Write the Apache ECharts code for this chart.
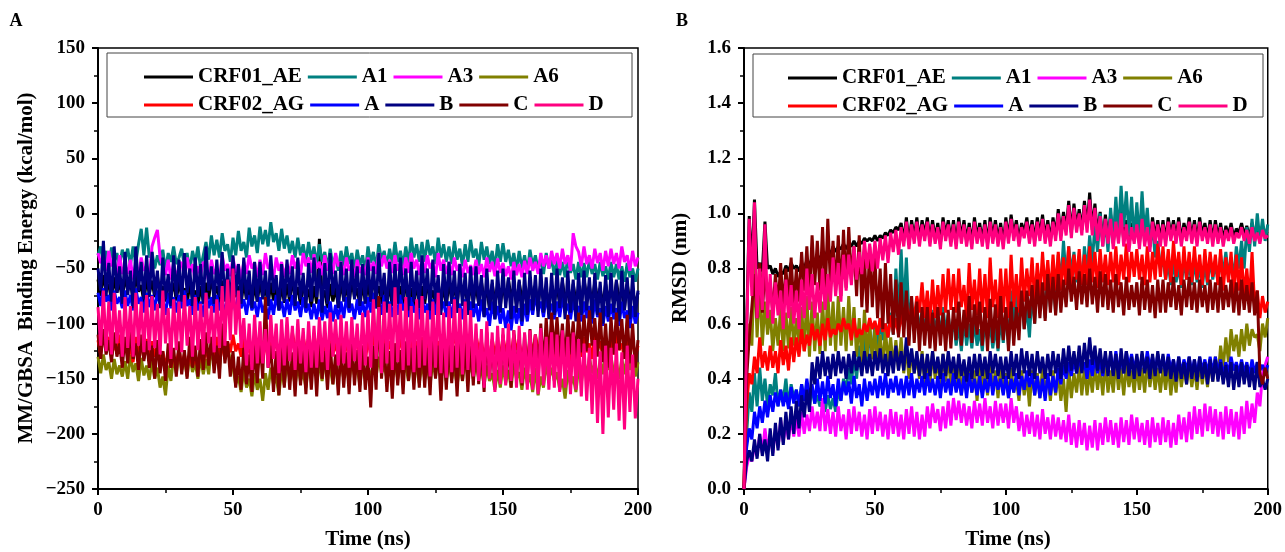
<!DOCTYPE html>
<html>
<head>
<meta charset="utf-8">
<script src="https://cdn.jsdelivr.net/npm/echarts@6/dist/echarts.min.js"></script>
<style>
  html, body { margin: 0; padding: 0; background: #fff; }
  #main { width: 1285px; height: 552px; }
</style>
</head>
<body>
<div id="main"></div>
<script>
// one frame per ns, 0..200 ns
var timeStep = 1;

var seriesNames = ['CRF01_AE', 'A1', 'A3', 'A6', 'CRF02_AG', 'A', 'B', 'C', 'D'];
var seriesColors = ['#000000', '#008080', '#FF00FF', '#808000', '#FF0000', '#0000FF', '#000080', '#800000', '#FF0080'];
var legendRow1 = ['CRF01_AE', 'A1', 'A3', 'A6'];
var legendRow2 = ['CRF02_AG', 'A', 'B', 'C', 'D'];

var timeTicks = [0, 50, 100, 150, 200];
var energyTicks = [-250, -200, -150, -100, -50, 0, 50, 100, 150];
var rmsdTicks = [0.0, 0.2, 0.4, 0.6, 0.8, 1.0, 1.2, 1.4, 1.6];

// panel A : MM/GBSA binding energy (kcal/mol)
var energyCRF01_AE = [
  -60, -75, -56, -70, -64, -80, -58, -72, -62, -78,
  -57, -70, -63, -77, -55, -71, -65, -81, -59, -73,
  -61, -76, -57, -72, -66, -80, -60, -74, -63, -79,
  -62, -75, -68, -82, -64, -77, -70, -85, -66, -80,
  -63, -78, -58, -74, -66, -81, -61, -76, -68, -84,
  -60, -76, -66, -82, -62, -78, -68, -84, -64, -80,
  -62, -77, -67, -83, -63, -79, -69, -85, -65, -81,
  -64, -80, -60, -76, -67, -83, -62, -78, -69, -85,
  -66, -82, -23, -78, -70, -86, -64, -80, -68, -84,
  -62, -78, -66, -82, -60, -76, -68, -84, -64, -80,
  -64, -80, -58, -74, -66, -82, -62, -78, -68, -84,
  -60, -76, -66, -82, -62, -78, -68, -84, -64, -80,
  -66, -82, -62, -78, -70, -86, -64, -80, -68, -84,
  -62, -78, -66, -82, -60, -76, -68, -84, -64, -80,
  -66, -82, -62, -78, -70, -86, -64, -80, -68, -84,
  -64, -80, -60, -76, -67, -83, -62, -78, -69, -85,
  -62, -77, -67, -83, -63, -79, -69, -85, -65, -81,
  -66, -82, -62, -78, -70, -86, -64, -80, -68, -84,
  -60, -76, -66, -82, -62, -78, -68, -84, -64, -80,
  -66, -82, -62, -78, -70, -86, -64, -80, -68, -84,
  -72];
var energyA1 = [
  -38, -30, -46, -34, -50, -31, -44, -36, -48, -33,
  -42, -32, -47, -30, -45, -28, -14, -38, -13, -40,
  -35, -50, -38, -47, -33, -52, -36, -44, -30, -46,
  -40, -32, -48, -36, -52, -34, -45, -30, -50, -38,
  -26, -42, -20, -38, -24, -40, -18, -34, -28, -44,
  -22, -38, -16, -34, -26, -40, -13, -30, -20, -36,
  -12, -28, -15, -30, -8, -26, -18, -34, -14, -32,
  -20, -36, -25, -40, -22, -38, -28, -44, -26, -42,
  -30, -46, -28, -44, -35, -50, -32, -48, -38, -52,
  -34, -48, -30, -46, -36, -52, -33, -47, -38, -54,
  -30, -45, -35, -50, -28, -42, -34, -48, -32, -46,
  -26, -44, -34, -48, -30, -46, -22, -40, -28, -44,
  -26, -44, -24, -38, -30, -46, -22, -40, -28, -44,
  -30, -46, -25, -42, -32, -48, -28, -44, -24, -40,
  -32, -48, -26, -42, -30, -46, -34, -50, -28, -44,
  -27, -44, -33, -48, -36, -52, -34, -50, -38, -54,
  -33, -48, -38, -52, -40, -55, -36, -50, -42, -56,
  -42, -56, -44, -58, -40, -54, -46, -60, -44, -58,
  -45, -58, -42, -55, -46, -60, -44, -57, -48, -60,
  -44, -58, -46, -60, -48, -62, -45, -58, -50, -62,
  -50];
var energyA3 = [
  -36, -45, -40, -52, -34, -48, -44, -58, -38, -55,
  -47, -55, -42, -60, -45, -57, -40, -52, -48, -60,
  -30, -22, -15, -40, -48, -56, -42, -60, -45, -58,
  -50, -44, -58, -40, -54, -46, -62, -48, -56, -44,
  -48, -62, -42, -55, -50, -60, -38, -52, -46, -57,
  -40, -54, -46, -60, -44, -55, -38, -50, -45, -58,
  -42, -56, -36, -50, -47, -60, -40, -52, -44, -58,
  -46, -55, -38, -50, -42, -56, -36, -48, -40, -54,
  -37, -50, -44, -56, -38, -52, -42, -55, -36, -48,
  -44, -56, -40, -52, -46, -58, -42, -54, -47, -56,
  -40, -52, -44, -55, -36, -48, -38, -50, -42, -54,
  -38, -52, -44, -56, -40, -54, -36, -50, -42, -56,
  -40, -54, -38, -50, -44, -58, -36, -52, -42, -55,
  -44, -56, -40, -52, -46, -58, -42, -54, -47, -56,
  -42, -55, -46, -58, -40, -53, -44, -57, -41, -54,
  -45, -57, -48, -60, -44, -56, -46, -58, -43, -55,
  -40, -52, -44, -55, -36, -48, -38, -50, -34, -46,
  -36, -50, -32, -46, -38, -52, -18, -30, -35, -48,
  -30, -46, -38, -50, -32, -45, -36, -52, -34, -48,
  -32, -46, -36, -50, -30, -44, -38, -52, -34, -48,
  -40];
var energyA6 = [
  -130, -145, -128, -142, -135, -150, -132, -146, -138, -148,
  -134, -150, -128, -144, -136, -152, -131, -147, -138, -151,
  -134, -150, -140, -158, -148, -165, -138, -152, -130, -145,
  -126, -142, -132, -148, -128, -144, -135, -150, -130, -146,
  -132, -146, -120, -138, -128, -142, -106, -125, -118, -136,
  -140, -155, -148, -162, -142, -158, -150, -166, -145, -160,
  -150, -170, -145, -160, -140, -155, -148, -165, -142, -156,
  -135, -150, -142, -156, -138, -152, -144, -158, -136, -150,
  -130, -148, -138, -152, -132, -146, -140, -155, -136, -150,
  -134, -150, -138, -153, -132, -147, -140, -156, -135, -149,
  -138, -152, -134, -148, -130, -145, -138, -150, -132, -148,
  -136, -150, -132, -146, -138, -152, -134, -148, -140, -154,
  -136, -150, -140, -155, -134, -148, -130, -146, -138, -152,
  -135, -150, -140, -156, -138, -152, -132, -148, -136, -150,
  -135, -150, -140, -156, -138, -152, -145, -160, -142, -158,
  -138, -154, -142, -158, -136, -150, -144, -160, -140, -155,
  -146, -162, -140, -165, -148, -158, -136, -150, -140, -152,
  -144, -160, -150, -168, -142, -156, -148, -162, -140, -154,
  -134, -148, -130, -145, -136, -150, -132, -146, -128, -142,
  -130, -145, -136, -150, -132, -146, -128, -142, -134, -148,
  -135];
var energyCRF02_AG = [
  -115, -128, -108, -122, -112, -130, -118, -126, -110, -124,
  -116, -130, -120, -135, -112, -128, -118, -132, -114, -128,
  -116, -130, -120, -135, -125, -138, -128, -140, -130, -136,
  -124, -138, -128, -141, -126, -139, -130, -140, -125, -136,
  -122, -134, -118, -130, -112, -128, -120, -132, -116, -126,
  -110, -125, -118, -130, -114, -128, -120, -134, -116, -130,
  -112, -126, -118, -132, -110, -124, -116, -130, -120, -134,
  -114, -128, -108, -122, -116, -130, -112, -126, -118, -132,
  -110, -124, -116, -130, -120, -134, -114, -128, -118, -130,
  -112, -126, -118, -132, -110, -124, -116, -130, -120, -134,
  -114, -128, -110, -124, -118, -132, -112, -126, -116, -130,
  -118, -132, -112, -126, -120, -134, -114, -128, -116, -130,
  -112, -126, -118, -132, -110, -124, -116, -130, -120, -134,
  -114, -128, -108, -122, -116, -130, -112, -126, -118, -132,
  -110, -124, -116, -130, -120, -134, -114, -128, -118, -130,
  -112, -126, -118, -132, -110, -124, -116, -130, -120, -134,
  -114, -128, -110, -124, -118, -132, -112, -126, -116, -130,
  -118, -132, -112, -126, -120, -134, -114, -128, -116, -130,
  -112, -126, -118, -132, -110, -124, -116, -130, -120, -134,
  -114, -128, -110, -124, -118, -132, -112, -126, -116, -130,
  -120];
var energyA = [
  -72, -84, -68, -80, -74, -88, -70, -82, -76, -86,
  -70, -84, -74, -88, -68, -82, -76, -90, -72, -85,
  -74, -88, -70, -84, -78, -92, -72, -86, -76, -90,
  -74, -86, -70, -84, -78, -92, -74, -88, -80, -94,
  -72, -86, -76, -90, -74, -88, -78, -92, -75, -89,
  -76, -90, -72, -86, -78, -92, -74, -88, -80, -94,
  -76, -90, -82, -96, -78, -92, -74, -88, -80, -94,
  -78, -92, -74, -88, -80, -94, -76, -90, -82, -96,
  -82, -96, -78, -97, -84, -95, -80, -98, -83, -96,
  -80, -95, -76, -90, -82, -96, -78, -92, -80, -94,
  -76, -90, -72, -86, -78, -92, -74, -88, -80, -94,
  -78, -92, -74, -88, -80, -94, -76, -90, -82, -96,
  -76, -90, -82, -96, -78, -92, -74, -88, -80, -94,
  -80, -95, -76, -90, -82, -96, -78, -92, -80, -94,
  -82, -98, -78, -94, -86, -102, -80, -96, -84, -100,
  -86, -104, -88, -106, -84, -100, -86, -102, -82, -98,
  -78, -92, -74, -88, -80, -94, -76, -90, -82, -96,
  -80, -94, -76, -90, -82, -96, -78, -92, -84, -98,
  -80, -95, -84, -100, -78, -94, -86, -102, -84, -98,
  -82, -96, -86, -102, -80, -95, -88, -104, -84, -100,
  -90];
var energyB = [
  -50, -70, -25, -75, -45, -80, -30, -72, -48, -82,
  -35, -74, -52, -86, -30, -70, -44, -78, -38, -76,
  -35, -74, -52, -86, -40, -78, -55, -84, -38, -76,
  -42, -80, -36, -72, -50, -84, -40, -76, -46, -82,
  -30, -70, -48, -82, -42, -76, -35, -80, -50, -86,
  -38, -74, -46, -82, -40, -78, -52, -86, -44, -80,
  -44, -78, -52, -84, -38, -72, -56, -88, -46, -80,
  -42, -76, -48, -84, -40, -78, -54, -86, -45, -80,
  -40, -76, -50, -90, -45, -82, -36, -74, -52, -86,
  -44, -80, -50, -86, -42, -78, -48, -84, -46, -82,
  -42, -80, -48, -86, -36, -76, -54, -90, -44, -82,
  -46, -82, -40, -78, -50, -88, -44, -80, -52, -86,
  -38, -78, -50, -88, -42, -80, -56, -92, -46, -84,
  -44, -82, -52, -90, -46, -84, -54, -92, -48, -86,
  -48, -84, -56, -94, -50, -88, -60, -96, -52, -90,
  -50, -86, -58, -96, -52, -90, -60, -98, -54, -92,
  -52, -88, -56, -94, -50, -90, -58, -96, -54, -92,
  -50, -86, -58, -96, -52, -90, -60, -98, -54, -92,
  -52, -88, -58, -96, -54, -92, -62, -100, -56, -94,
  -54, -90, -60, -98, -52, -88, -58, -96, -56, -94,
  -70];
var energyC = [
  -110, -132, -105, -128, -115, -135, -108, -130, -118, -140,
  -112, -136, -106, -132, -118, -142, -110, -134, -116, -140,
  -120, -150, -115, -145, -125, -152, -118, -140, -122, -148,
  -116, -146, -124, -150, -112, -140, -120, -148, -114, -142,
  -108, -138, -112, -145, -120, -150, -100, -136, -116, -148,
  -125, -158, -130, -160, -122, -155, -128, -162, -120, -154,
  -115, -150, -76, -140, -120, -162, -125, -165, -118, -158,
  -120, -160, -126, -166, -118, -156, -124, -164, -122, -160,
  -122, -166, -115, -150, -125, -160, -118, -155, -128, -165,
  -120, -158, -126, -164, -118, -156, -124, -162, -120, -160,
  -130, -176, -120, -160, -75, -150, -118, -162, -125, -168,
  -118, -156, -124, -164, -116, -152, -122, -160, -120, -158,
  -115, -158, -122, -165, -110, -150, -120, -170, -118, -160,
  -116, -154, -120, -166, -112, -152, -118, -162, -114, -156,
  -112, -155, -120, -162, -108, -150, -116, -158, -112, -152,
  -110, -150, -118, -158, -106, -148, -114, -156, -110, -150,
  -105, -145, -110, -150, -100, -140, -95, -135, -90, -128,
  -94, -130, -100, -136, -92, -128, -98, -134, -90, -126,
  -92, -125, -88, -120, -95, -130, -90, -135, -100, -140,
  -94, -128, -90, -124, -96, -132, -92, -136, -100, -140,
  -115];
var energyD = [
  -85, -120, -70, -125, -80, -128, -72, -118, -88, -130,
  -76, -122, -84, -130, -72, -120, -80, -126, -74, -124,
  -75, -122, -82, -128, -70, -118, -86, -132, -78, -124,
  -80, -126, -74, -120, -84, -130, -76, -124, -82, -128,
  -72, -118, -84, -126, -78, -122, -66, -120, -60, -115,
  -50, -110, -70, -122, -95, -138, -100, -142, -92, -136,
  -98, -136, -105, -140, -92, -132, -100, -145, -96, -138,
  -94, -134, -102, -142, -96, -136, -104, -144, -98, -140,
  -102, -140, -94, -135, -98, -142, -90, -130, -96, -138,
  -92, -136, -98, -140, -94, -134, -100, -142, -90, -138,
  -88, -140, -78, -132, -85, -145, -80, -136, -82, -142,
  -67, -135, -82, -142, -76, -138, -84, -144, -78, -140,
  -75, -138, -88, -148, -80, -140, -72, -145, -90, -149,
  -84, -144, -78, -140, -86, -146, -80, -142, -88, -148,
  -100, -152, -105, -158, -98, -150, -108, -162, -102, -155,
  -104, -156, -100, -152, -106, -158, -102, -154, -108, -160,
  -106, -160, -110, -164, -104, -156, -112, -160, -108, -158,
  -110, -162, -106, -158, -112, -164, -108, -160, -114, -166,
  -118, -170, -122, -182, -115, -190, -125, -200, -120, -185,
  -122, -178, -118, -188, -126, -196, -120, -180, -128, -186,
  -150];

// panel B : RMSD (nm)
var rmsdCRF01_AE = [
  0.00, 0.60, 0.99, 0.80, 1.05, 0.80, 0.82, 0.79, 0.97, 0.80,
  0.81, 0.78, 0.80, 0.77, 0.79, 0.78, 0.81, 0.79, 0.82, 0.80,
  0.81, 0.79, 0.82, 0.80, 0.83, 0.81, 0.84, 0.82, 0.85, 0.83,
  0.86, 0.84, 0.87, 0.85, 0.88, 0.86, 0.88, 0.87, 0.89, 0.87,
  0.89, 0.88, 0.90, 0.88, 0.90, 0.89, 0.91, 0.90, 0.91, 0.90,
  0.92, 0.90, 0.92, 0.91, 0.93, 0.92, 0.94, 0.93, 0.95, 0.94,
  0.965, 0.90, 0.985, 0.89, 0.975, 0.91, 0.985, 0.90, 0.975, 0.92,
  0.985, 0.90, 0.975, 0.91, 0.965, 0.89, 0.985, 0.92, 0.975, 0.90,
  0.975, 0.89, 0.985, 0.91, 0.975, 0.90, 0.965, 0.89, 0.985, 0.91,
  0.965, 0.90, 0.975, 0.89, 0.985, 0.91, 0.975, 0.90, 0.965, 0.89,
  0.985, 0.91, 0.995, 0.92, 0.975, 0.90, 0.965, 0.93, 0.985, 0.91,
  0.975, 0.90, 0.985, 0.92, 0.995, 0.91, 0.975, 0.90, 0.985, 0.92,
  1.015, 0.92, 1.005, 0.94, 1.045, 0.93, 1.035, 0.95, 1.015, 0.94,
  1.045, 0.95, 1.075, 0.94, 1.035, 0.92, 1.005, 0.90, 0.995, 0.91,
  0.995, 0.89, 0.985, 0.91, 1.015, 0.90, 0.975, 0.88, 0.965, 0.91,
  0.975, 0.89, 0.995, 0.90, 0.965, 0.88, 0.985, 0.91, 0.975, 0.90,
  0.975, 0.90, 0.985, 0.92, 0.975, 0.91, 0.985, 0.90, 0.965, 0.92,
  0.985, 0.91, 0.975, 0.90, 0.985, 0.92, 0.965, 0.91, 0.975, 0.90,
  0.975, 0.91, 0.965, 0.90, 0.955, 0.92, 0.965, 0.91, 0.945, 0.93,
  0.965, 0.92, 0.955, 0.91, 0.965, 0.92, 0.945, 0.91, 0.955, 0.93,
  0.935];
var rmsdA1 = [
  0.00, 0.20, 0.35, 0.28, 0.42, 0.30, 0.44, 0.32, 0.40, 0.30,
  0.38, 0.34, 0.42, 0.30, 0.36, 0.32, 0.40, 0.30, 0.38, 0.33,
  0.36, 0.30, 0.38, 0.32, 0.35, 0.30, 0.37, 0.31, 0.34, 0.30,
  0.32, 0.28, 0.34, 0.29, 0.33, 0.28, 0.36, 0.32, 0.40, 0.36,
  0.44, 0.38, 0.48, 0.40, 0.52, 0.44, 0.55, 0.45, 0.58, 0.48,
  0.60, 0.50, 0.62, 0.54, 0.60, 0.55, 0.64, 0.56, 0.80, 0.62,
  0.87, 0.64, 0.84, 0.62, 0.68, 0.58, 0.66, 0.57, 0.65, 0.56,
  0.66, 0.57, 0.65, 0.56, 0.64, 0.55, 0.66, 0.57, 0.63, 0.55,
  0.62, 0.52, 0.60, 0.50, 0.62, 0.52, 0.60, 0.51, 0.61, 0.52,
  0.58, 0.50, 0.62, 0.54, 0.60, 0.51, 0.59, 0.50, 0.62, 0.53,
  0.65, 0.52, 0.72, 0.56, 0.75, 0.60, 0.70, 0.58, 0.66, 0.55,
  0.72, 0.60, 0.78, 0.65, 0.74, 0.62, 0.80, 0.66, 0.76, 0.64,
  0.85, 0.74, 0.90, 0.76, 0.88, 0.78, 0.86, 0.75, 0.84, 0.74,
  0.88, 0.78, 0.92, 0.82, 0.96, 0.86, 1.00, 0.88, 0.98, 0.86,
  1.02, 0.90, 1.06, 0.92, 1.10, 0.95, 1.08, 0.92, 1.06, 0.90,
  1.04, 0.90, 1.08, 0.92, 1.02, 0.88, 0.96, 0.84, 0.90, 0.80,
  0.84, 0.76, 0.82, 0.74, 0.83, 0.75, 0.81, 0.73, 0.84, 0.76,
  0.82, 0.74, 0.83, 0.75, 0.81, 0.73, 0.82, 0.74, 0.84, 0.76,
  0.82, 0.75, 0.85, 0.78, 0.86, 0.77, 0.84, 0.76, 0.88, 0.80,
  0.90, 0.80, 0.95, 0.86, 0.98, 0.88, 1.00, 0.90, 0.98, 0.90,
  0.96];
var rmsdA3 = [
  0.00, 0.08, 0.12, 0.10, 0.16, 0.12, 0.20, 0.13, 0.22, 0.14,
  0.20, 0.13, 0.22, 0.15, 0.25, 0.17, 0.24, 0.18, 0.26, 0.19,
  0.26, 0.19, 0.28, 0.20, 0.27, 0.21, 0.30, 0.22, 0.28, 0.21,
  0.33, 0.21, 0.29, 0.20, 0.28, 0.19, 0.30, 0.21, 0.27, 0.18,
  0.29, 0.20, 0.30, 0.21, 0.28, 0.19, 0.27, 0.18, 0.29, 0.20,
  0.30, 0.21, 0.28, 0.19, 0.27, 0.18, 0.29, 0.20, 0.28, 0.19,
  0.27, 0.18, 0.29, 0.20, 0.30, 0.19, 0.28, 0.18, 0.27, 0.19,
  0.30, 0.22, 0.31, 0.24, 0.29, 0.21, 0.30, 0.22, 0.32, 0.23,
  0.33, 0.25, 0.32, 0.24, 0.31, 0.23, 0.30, 0.22, 0.32, 0.24,
  0.31, 0.23, 0.33, 0.24, 0.30, 0.22, 0.32, 0.23, 0.31, 0.24,
  0.31, 0.22, 0.33, 0.24, 0.30, 0.21, 0.28, 0.19, 0.27, 0.20,
  0.28, 0.19, 0.27, 0.18, 0.29, 0.20, 0.26, 0.18, 0.27, 0.19,
  0.26, 0.18, 0.25, 0.17, 0.27, 0.16, 0.24, 0.15, 0.25, 0.16,
  0.24, 0.14, 0.23, 0.15, 0.25, 0.14, 0.24, 0.16, 0.26, 0.17,
  0.25, 0.16, 0.24, 0.15, 0.26, 0.17, 0.25, 0.16, 0.27, 0.18,
  0.26, 0.17, 0.24, 0.16, 0.25, 0.15, 0.26, 0.17, 0.24, 0.16,
  0.26, 0.17, 0.25, 0.15, 0.24, 0.16, 0.27, 0.18, 0.26, 0.17,
  0.28, 0.18, 0.30, 0.20, 0.29, 0.19, 0.31, 0.21, 0.30, 0.20,
  0.29, 0.19, 0.28, 0.18, 0.30, 0.20, 0.29, 0.19, 0.28, 0.18,
  0.30, 0.20, 0.32, 0.22, 0.31, 0.24, 0.35, 0.30, 0.42, 0.45,
  0.48];
var rmsdA6 = [
  0.00, 0.45, 0.60, 0.52, 0.83, 0.55, 0.75, 0.52, 0.68, 0.56,
  0.65, 0.50, 0.62, 0.52, 0.66, 0.50, 0.64, 0.51, 0.66, 0.52,
  0.62, 0.52, 0.66, 0.50, 0.70, 0.48, 0.68, 0.50, 0.64, 0.49,
  0.68, 0.50, 0.72, 0.52, 0.68, 0.50, 0.70, 0.52, 0.66, 0.50,
  0.70, 0.52, 0.66, 0.48, 0.62, 0.46, 0.65, 0.48, 0.60, 0.47,
  0.58, 0.45, 0.56, 0.44, 0.58, 0.46, 0.55, 0.44, 0.54, 0.43,
  0.55, 0.42, 0.52, 0.40, 0.50, 0.42, 0.48, 0.40, 0.50, 0.38,
  0.48, 0.38, 0.50, 0.40, 0.47, 0.38, 0.49, 0.39, 0.48, 0.37,
  0.46, 0.36, 0.45, 0.34, 0.44, 0.36, 0.46, 0.35, 0.43, 0.32,
  0.45, 0.35, 0.44, 0.34, 0.46, 0.36, 0.43, 0.33, 0.45, 0.35,
  0.42, 0.33, 0.44, 0.35, 0.40, 0.32, 0.43, 0.34, 0.41, 0.30,
  0.43, 0.34, 0.42, 0.33, 0.44, 0.35, 0.41, 0.32, 0.43, 0.34,
  0.42, 0.32, 0.40, 0.28, 0.44, 0.33, 0.42, 0.35, 0.45, 0.34,
  0.44, 0.34, 0.43, 0.35, 0.45, 0.36, 0.44, 0.34, 0.46, 0.35,
  0.43, 0.35, 0.46, 0.36, 0.44, 0.34, 0.45, 0.37, 0.43, 0.35,
  0.45, 0.36, 0.44, 0.35, 0.46, 0.37, 0.45, 0.36, 0.44, 0.35,
  0.44, 0.36, 0.45, 0.34, 0.43, 0.35, 0.46, 0.37, 0.44, 0.38,
  0.45, 0.37, 0.44, 0.36, 0.46, 0.38, 0.45, 0.37, 0.47, 0.39,
  0.48, 0.40, 0.52, 0.44, 0.55, 0.46, 0.58, 0.50, 0.56, 0.48,
  0.58, 0.50, 0.60, 0.52, 0.58, 0.55, 0.56, 0.50, 0.60, 0.55,
  0.62];
var rmsdCRF02_AG = [
  0.00, 0.30, 0.42, 0.38, 0.48, 0.42, 0.55, 0.44, 0.50, 0.43,
  0.52, 0.44, 0.50, 0.42, 0.54, 0.45, 0.52, 0.43, 0.55, 0.46,
  0.55, 0.48, 0.58, 0.50, 0.56, 0.52, 0.60, 0.54, 0.58, 0.52,
  0.60, 0.54, 0.62, 0.55, 0.58, 0.56, 0.60, 0.57, 0.62, 0.58,
  0.60, 0.54, 0.62, 0.55, 0.58, 0.56, 0.60, 0.57, 0.62, 0.58,
  0.61, 0.56, 0.62, 0.57, 0.60, 0.55, 0.63, 0.57, 0.62, 0.56,
  0.64, 0.58, 0.68, 0.60, 0.66, 0.62, 0.70, 0.64, 0.75, 0.62,
  0.72, 0.60, 0.76, 0.62, 0.74, 0.63, 0.78, 0.64, 0.80, 0.65,
  0.78, 0.64, 0.80, 0.66, 0.74, 0.62, 0.82, 0.65, 0.76, 0.63,
  0.80, 0.64, 0.78, 0.62, 0.84, 0.66, 0.76, 0.62, 0.80, 0.64,
  0.80, 0.62, 0.85, 0.66, 0.78, 0.64, 0.84, 0.68, 0.80, 0.70,
  0.84, 0.68, 0.82, 0.70, 0.86, 0.72, 0.83, 0.70, 0.85, 0.72,
  0.86, 0.72, 0.84, 0.74, 0.88, 0.72, 0.85, 0.76, 0.87, 0.74,
  0.85, 0.74, 0.88, 0.75, 0.86, 0.73, 0.87, 0.75, 0.85, 0.74,
  0.86, 0.75, 0.88, 0.74, 0.85, 0.76, 0.89, 0.75, 0.86, 0.77,
  0.87, 0.76, 0.85, 0.74, 0.88, 0.75, 0.86, 0.76, 0.89, 0.77,
  0.88, 0.76, 0.87, 0.75, 0.90, 0.77, 0.86, 0.74, 0.88, 0.76,
  0.86, 0.75, 0.88, 0.76, 0.85, 0.74, 0.87, 0.75, 0.86, 0.77,
  0.85, 0.74, 0.87, 0.72, 0.84, 0.75, 0.86, 0.70, 0.85, 0.72,
  0.84, 0.70, 0.80, 0.68, 0.86, 0.66, 0.72, 0.62, 0.70, 0.64,
  0.68];
var rmsdA = [
  0.00, 0.15, 0.22, 0.18, 0.28, 0.22, 0.30, 0.24, 0.32, 0.26,
  0.34, 0.28, 0.35, 0.30, 0.36, 0.30, 0.35, 0.29, 0.37, 0.31,
  0.36, 0.30, 0.38, 0.32, 0.40, 0.33, 0.38, 0.31, 0.40, 0.32,
  0.39, 0.31, 0.41, 0.33, 0.38, 0.30, 0.40, 0.32, 0.39, 0.34,
  0.39, 0.31, 0.41, 0.33, 0.38, 0.30, 0.40, 0.32, 0.39, 0.34,
  0.40, 0.33, 0.41, 0.34, 0.42, 0.33, 0.40, 0.35, 0.41, 0.34,
  0.40, 0.33, 0.41, 0.34, 0.42, 0.33, 0.40, 0.35, 0.41, 0.34,
  0.42, 0.35, 0.40, 0.34, 0.41, 0.33, 0.42, 0.35, 0.40, 0.34,
  0.42, 0.35, 0.40, 0.34, 0.41, 0.33, 0.42, 0.35, 0.40, 0.34,
  0.41, 0.33, 0.40, 0.35, 0.42, 0.34, 0.41, 0.36, 0.40, 0.34,
  0.41, 0.33, 0.40, 0.35, 0.42, 0.34, 0.41, 0.36, 0.43, 0.37,
  0.42, 0.34, 0.41, 0.33, 0.40, 0.32, 0.42, 0.34, 0.41, 0.35,
  0.44, 0.38, 0.45, 0.40, 0.46, 0.41, 0.47, 0.42, 0.48, 0.43,
  0.46, 0.40, 0.47, 0.41, 0.48, 0.42, 0.47, 0.41, 0.48, 0.43,
  0.49, 0.42, 0.50, 0.43, 0.48, 0.42, 0.50, 0.44, 0.49, 0.43,
  0.48, 0.42, 0.49, 0.43, 0.50, 0.44, 0.48, 0.42, 0.49, 0.43,
  0.48, 0.42, 0.49, 0.43, 0.47, 0.41, 0.48, 0.42, 0.47, 0.43,
  0.48, 0.42, 0.47, 0.41, 0.48, 0.43, 0.47, 0.42, 0.48, 0.42,
  0.48, 0.42, 0.47, 0.41, 0.46, 0.42, 0.48, 0.43, 0.46, 0.42,
  0.47, 0.42, 0.46, 0.41, 0.47, 0.42, 0.46, 0.43, 0.45, 0.42,
  0.45];
var rmsdB = [
  0.00, 0.10, 0.14, 0.10, 0.18, 0.11, 0.20, 0.12, 0.18, 0.10,
  0.22, 0.12, 0.24, 0.14, 0.26, 0.16, 0.28, 0.18, 0.30, 0.20,
  0.32, 0.22, 0.34, 0.26, 0.36, 0.28, 0.46, 0.38, 0.48, 0.40,
  0.50, 0.41, 0.48, 0.40, 0.49, 0.41, 0.50, 0.42, 0.48, 0.40,
  0.49, 0.42, 0.50, 0.43, 0.48, 0.41, 0.50, 0.42, 0.49, 0.41,
  0.50, 0.43, 0.51, 0.42, 0.49, 0.41, 0.50, 0.42, 0.52, 0.43,
  0.50, 0.43, 0.55, 0.44, 0.51, 0.42, 0.50, 0.41, 0.49, 0.40,
  0.49, 0.41, 0.50, 0.42, 0.48, 0.40, 0.49, 0.41, 0.50, 0.42,
  0.48, 0.40, 0.49, 0.41, 0.47, 0.39, 0.48, 0.40, 0.49, 0.41,
  0.49, 0.41, 0.48, 0.40, 0.50, 0.42, 0.49, 0.41, 0.48, 0.40,
  0.48, 0.40, 0.50, 0.41, 0.49, 0.40, 0.51, 0.42, 0.50, 0.41,
  0.49, 0.40, 0.50, 0.42, 0.48, 0.40, 0.49, 0.41, 0.50, 0.42,
  0.49, 0.40, 0.51, 0.42, 0.52, 0.43, 0.50, 0.42, 0.52, 0.42,
  0.53, 0.44, 0.55, 0.45, 0.52, 0.43, 0.51, 0.42, 0.50, 0.41,
  0.50, 0.41, 0.49, 0.40, 0.51, 0.42, 0.50, 0.41, 0.48, 0.40,
  0.49, 0.41, 0.50, 0.42, 0.48, 0.40, 0.49, 0.41, 0.50, 0.42,
  0.49, 0.41, 0.48, 0.40, 0.47, 0.39, 0.48, 0.40, 0.46, 0.38,
  0.48, 0.40, 0.47, 0.39, 0.48, 0.40, 0.46, 0.38, 0.47, 0.39,
  0.47, 0.39, 0.46, 0.38, 0.45, 0.37, 0.46, 0.36, 0.45, 0.37,
  0.46, 0.38, 0.45, 0.37, 0.44, 0.36, 0.46, 0.37, 0.40, 0.36,
  0.40];
var rmsdC = [
  0.00, 0.40, 0.55, 0.66, 0.78, 0.62, 0.82, 0.64, 0.80, 0.68,
  0.75, 0.64, 0.78, 0.66, 0.82, 0.65, 0.80, 0.68, 0.84, 0.66,
  0.80, 0.68, 0.86, 0.72, 0.88, 0.70, 0.92, 0.74, 0.90, 0.72,
  0.95, 0.70, 0.98, 0.74, 0.90, 0.72, 0.92, 0.70, 0.94, 0.73,
  0.95, 0.76, 0.88, 0.70, 0.92, 0.66, 0.84, 0.64, 0.88, 0.66,
  0.84, 0.62, 0.80, 0.58, 0.82, 0.60, 0.78, 0.56, 0.76, 0.55,
  0.75, 0.55, 0.72, 0.52, 0.70, 0.53, 0.68, 0.50, 0.66, 0.52,
  0.66, 0.51, 0.64, 0.50, 0.66, 0.52, 0.64, 0.50, 0.65, 0.51,
  0.66, 0.54, 0.68, 0.52, 0.65, 0.55, 0.70, 0.53, 0.67, 0.56,
  0.68, 0.52, 0.66, 0.50, 0.69, 0.53, 0.67, 0.51, 0.70, 0.54,
  0.66, 0.50, 0.68, 0.52, 0.66, 0.54, 0.72, 0.58, 0.72, 0.62,
  0.74, 0.60, 0.76, 0.62, 0.75, 0.61, 0.78, 0.64, 0.77, 0.63,
  0.78, 0.64, 0.76, 0.66, 0.80, 0.68, 0.77, 0.65, 0.79, 0.67,
  0.78, 0.66, 0.80, 0.67, 0.77, 0.64, 0.79, 0.66, 0.78, 0.65,
  0.76, 0.64, 0.78, 0.66, 0.75, 0.63, 0.77, 0.65, 0.74, 0.66,
  0.75, 0.63, 0.77, 0.65, 0.76, 0.64, 0.74, 0.62, 0.76, 0.64,
  0.76, 0.64, 0.75, 0.66, 0.77, 0.65, 0.74, 0.63, 0.76, 0.66,
  0.77, 0.65, 0.75, 0.64, 0.76, 0.66, 0.74, 0.64, 0.76, 0.65,
  0.75, 0.64, 0.77, 0.65, 0.74, 0.66, 0.76, 0.64, 0.75, 0.63,
  0.76, 0.65, 0.74, 0.64, 0.75, 0.63, 0.72, 0.42, 0.38, 0.44,
  0.40];
var rmsdD = [
  0.00, 0.55, 0.98, 0.70, 1.04, 0.62, 0.80, 0.65, 0.96, 0.62,
  0.78, 0.60, 0.75, 0.63, 0.72, 0.58, 0.76, 0.62, 0.74, 0.60,
  0.72, 0.58, 0.76, 0.62, 0.80, 0.65, 0.78, 0.62, 0.75, 0.64,
  0.80, 0.65, 0.78, 0.68, 0.84, 0.70, 0.82, 0.68, 0.85, 0.72,
  0.85, 0.74, 0.88, 0.76, 0.86, 0.78, 0.90, 0.80, 0.89, 0.79,
  0.90, 0.80, 0.91, 0.83, 0.92, 0.82, 0.93, 0.86, 0.94, 0.85,
  0.95, 0.88, 0.97, 0.87, 0.96, 0.89, 0.97, 0.88, 0.96, 0.90,
  0.97, 0.88, 0.96, 0.89, 0.95, 0.87, 0.97, 0.90, 0.96, 0.88,
  0.96, 0.87, 0.97, 0.89, 0.96, 0.88, 0.95, 0.87, 0.97, 0.89,
  0.95, 0.88, 0.96, 0.87, 0.97, 0.89, 0.96, 0.88, 0.95, 0.87,
  0.97, 0.89, 0.98, 0.90, 0.96, 0.88, 0.95, 0.91, 0.97, 0.89,
  0.96, 0.88, 0.97, 0.90, 0.98, 0.89, 0.96, 0.88, 0.97, 0.90,
  1.00, 0.90, 0.99, 0.92, 1.03, 0.91, 1.02, 0.93, 1.00, 0.92,
  1.03, 0.93, 1.05, 0.92, 1.02, 0.90, 0.99, 0.88, 0.98, 0.89,
  0.98, 0.87, 0.97, 0.89, 1.00, 0.88, 0.96, 0.86, 0.95, 0.89,
  0.96, 0.87, 0.98, 0.88, 0.95, 0.86, 0.97, 0.89, 0.96, 0.88,
  0.96, 0.88, 0.97, 0.90, 0.96, 0.89, 0.97, 0.88, 0.95, 0.90,
  0.97, 0.89, 0.96, 0.88, 0.97, 0.90, 0.95, 0.89, 0.96, 0.88,
  0.96, 0.89, 0.95, 0.88, 0.94, 0.90, 0.95, 0.89, 0.93, 0.91,
  0.95, 0.90, 0.94, 0.89, 0.95, 0.90, 0.93, 0.89, 0.94, 0.91,
  0.92];

var energyData = [energyCRF01_AE, energyA1, energyA3, energyA6, energyCRF02_AG, energyA, energyB, energyC, energyD];
var rmsdData = [rmsdCRF01_AE, rmsdA1, rmsdA3, rmsdA6, rmsdCRF02_AG, rmsdA, rmsdB, rmsdC, rmsdD];

var serif = "'Liberation Serif', 'Times New Roman', 'DejaVu Serif', serif";

function minusFmt(v) {
  return v < 0 ? '\u2212' + (-v) : String(v);
}

function makeSeries(arrays, axisIdx) {
  return seriesNames.map(function (name, k) {
    return {
      name: name,
      type: 'line',
      xAxisIndex: axisIdx,
      yAxisIndex: axisIdx,
      data: arrays[k].map(function (v, i) { return [i * timeStep, v]; }),
      symbol: 'none',
      sampling: null,
      lineStyle: { width: 3, color: seriesColors[k] },
      itemStyle: { color: seriesColors[k] },
      emphasis: { disabled: true }
    };
  });
}

function timeAxis(gi) {
  return {
    gridIndex: gi,
    type: 'value',
    min: timeTicks[0],
    max: timeTicks[timeTicks.length - 1],
    interval: timeTicks[1] - timeTicks[0],
    axisLine: { onZero: false, lineStyle: { color: '#000', width: 2 } },
    axisTick: { length: 6, lineStyle: { color: '#000', width: 2 } },
    minorTick: { show: true, splitNumber: 2, length: 4, lineStyle: { color: '#000', width: 1.5 } },
    splitLine: { show: false },
    axisLabel: { color: '#000', fontFamily: serif, fontWeight: 'bold', fontSize: 19, margin: 12 }
  };
}

function valueAxis(gi, ticks, fmt) {
  return {
    gridIndex: gi,
    type: 'value',
    min: ticks[0],
    max: ticks[ticks.length - 1],
    interval: ticks[1] - ticks[0],
    axisLine: { show: true, onZero: false, lineStyle: { color: '#000', width: 2 } },
    axisTick: { show: true, length: 6, lineStyle: { color: '#000', width: 2 } },
    minorTick: { show: true, splitNumber: 2, length: 4, lineStyle: { color: '#000', width: 1.5 } },
    splitLine: { show: false },
    axisLabel: { color: '#000', fontFamily: serif, fontWeight: 'bold', fontSize: 19, margin: 13, formatter: fmt }
  };
}

function legendRow(names, left, top) {
  return {
    data: names,
    left: left,
    top: top,
    orient: 'horizontal',
    icon: 'rect',
    itemWidth: 49,
    itemHeight: 3,
    itemGap: 6,
    padding: 0,
    selectedMode: false,
    textStyle: { color: '#000', fontFamily: serif, fontWeight: 'bold', fontSize: 21, lineHeight: 22 }
  };
}

function label(text, x, y, size, rot) {
  return {
    type: 'text',
    x: x,
    y: y,
    rotation: rot || 0,
    style: {
      text: text,
      fill: '#000',
      font: 'bold ' + size + 'px ' + serif,
      align: 'center',
      verticalAlign: 'middle'
    }
  };
}

var chart = echarts.init(document.getElementById('main'));

var option = {
  backgroundColor: '#fff',
  animation: false,
  grid: [
    { left: 98, top: 48, width: 540, height: 441, show: true, borderColor: '#000', borderWidth: 1.5, backgroundColor: 'transparent' },
    { left: 744, top: 48, width: 526, height: 441, show: true, borderColor: '#000', borderWidth: 1.5, backgroundColor: 'transparent' }
  ],
  xAxis: [timeAxis(0), timeAxis(1)],
  yAxis: [
    valueAxis(0, energyTicks, minusFmt),
    valueAxis(1, rmsdTicks, function (v) { return v.toFixed(1); })
  ],
  legend: [
    legendRow(legendRow1, 144, 66),
    legendRow(legendRow2, 144, 94),
    legendRow(legendRow1, 788, 67),
    legendRow(legendRow2, 788, 95)
  ],
  graphic: [
    { type: 'rect', shape: { x: 107, y: 53, width: 525, height: 64 }, style: { fill: 'none', stroke: '#444', lineWidth: 1 }, z: 10 },
    { type: 'rect', shape: { x: 753, y: 54, width: 510, height: 63 }, style: { fill: 'none', stroke: '#444', lineWidth: 1 }, z: 10 },
    label('A', 16, 21, 18),
    label('B', 682, 21, 18),
    label('MM/GBSA  Binding Energy (kcal/mol)', 27, 268, 21, Math.PI / 2),
    label('RMSD (nm)', 681, 268, 21, Math.PI / 2),
    label('Time (ns)', 368, 540, 21),
    label('Time (ns)', 1008, 540, 21)
  ],
  series: makeSeries(energyData, 0).concat(makeSeries(rmsdData, 1))
};

chart.setOption(option);
</script>
</body>
</html>
